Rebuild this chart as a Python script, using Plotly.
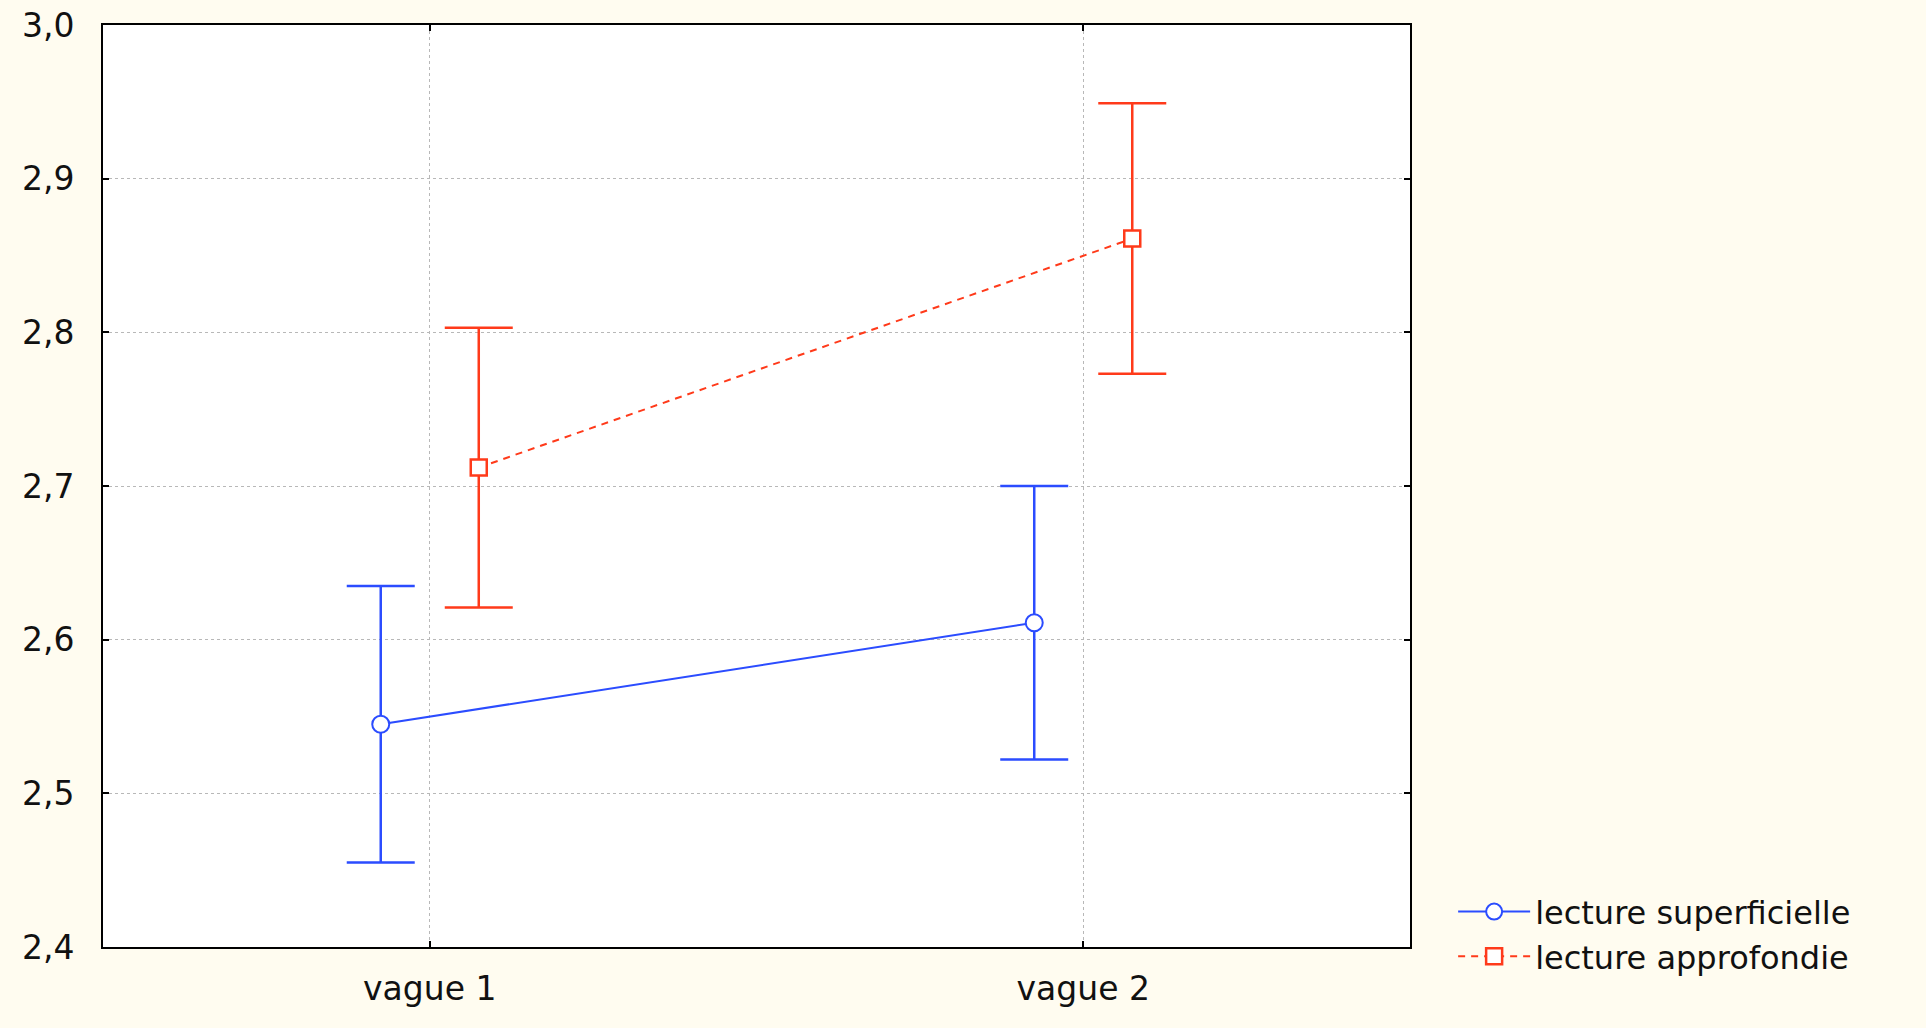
import plotly.graph_objects as go

# Moyennes et demi-intervalles (IC 95 %) par vague de mesure
categories = ["vague 1", "vague 2"]
superficielle_moy = [2.545, 2.611]
superficielle_err = [0.090, 0.089]
approfondie_moy = [2.712, 2.861]
approfondie_err = [0.091, 0.088]
y_ticks = [2.4, 2.5, 2.6, 2.7, 2.8, 2.9, 3.0]

BLEU = "#2b4cff"
ROUGE = "#ff3a1a"
FOND = "#fffcf0"
POLICE = "DejaVu Sans"
TEXTE = "#111111"

# léger décalage horizontal pour séparer les deux groupes
decalage = 0.075
pos = list(range(len(categories)))

fig = go.Figure()
fig.add_trace(go.Scatter(
    x=[p - decalage for p in pos], y=superficielle_moy,
    mode="lines+markers", name="lecture superficielle",
    line=dict(color=BLEU, width=2),
    marker=dict(symbol="circle", size=17, color="white",
                line=dict(color=BLEU, width=2)),
    error_y=dict(type="data", array=superficielle_err, visible=True,
                 color=BLEU, thickness=2.5, width=34),
))
fig.add_trace(go.Scatter(
    x=[p + decalage for p in pos], y=approfondie_moy,
    mode="lines+markers", name="lecture approfondie",
    line=dict(color=ROUGE, width=2, dash="7px,6px"),
    marker=dict(symbol="square", size=16, color="white",
                line=dict(color=ROUGE, width=2.5)),
    error_y=dict(type="data", array=approfondie_err, visible=True,
                 color=ROUGE, thickness=2.5, width=34),
))

axe_commun = dict(
    showline=True, linecolor="black", linewidth=2, mirror="ticks",
    ticks="inside", ticklen=6, tickcolor="black", tickwidth=2,
    showgrid=True, gridcolor="#b8b8b8", gridwidth=1, griddash="dot",
    zeroline=False, automargin=False,
    tickfont=dict(family=POLICE, size=33, color=TEXTE),
)

fig.update_xaxes(
    range=[-0.5, 1.5], tickmode="array", tickvals=pos, ticktext=categories,
    ticklabelstandoff=11, **axe_commun,
)
fig.update_yaxes(
    range=[2.4, 3.0], tickmode="array", tickvals=y_ticks, tickformat=".1f",
    ticklabelstandoff=20, **axe_commun,
)

fig.update_layout(
    width=1926, height=1028,
    margin=dict(l=103, r=516, t=25, b=81),
    paper_bgcolor=FOND, plot_bgcolor="white",
    separators=", ",
    font=dict(family=POLICE, size=33, color=TEXTE),
    showlegend=True,
    legend=dict(
        x=1.033, xanchor="left", y=0.068, yanchor="top",
        bgcolor="rgba(0,0,0,0)", borderwidth=0,
        font=dict(family=POLICE, size=32, color=TEXTE),
        itemwidth=72, tracegroupgap=0,
    ),
)

fig.write_html("out.html")
